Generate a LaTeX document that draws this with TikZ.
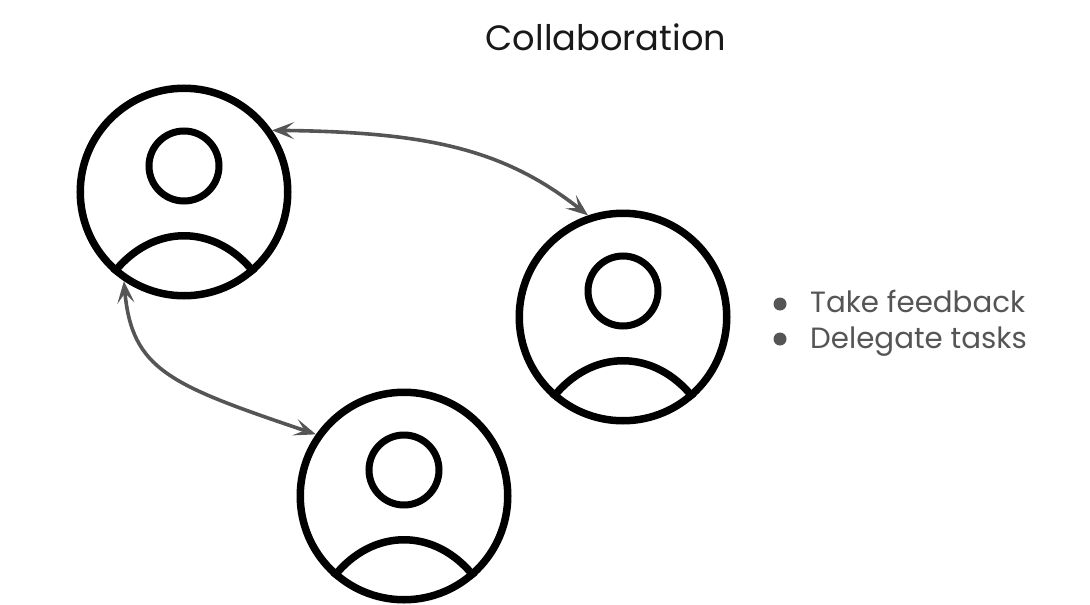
\documentclass[tikz,border=0pt]{standalone}
\usepackage{fontspec}
\setmainfont{Poppins}
\usepackage{xcolor}
\usetikzlibrary{arrows.meta, positioning}
\definecolor{linkgray}{HTML}{555555}

\begin{document}
\begin{tikzpicture}[
    x=1pt, y=-1pt,
    person/.style={draw, circle, line width=7.5pt, minimum size=207.5pt, inner sep=0pt},
    head/.style={draw, circle, line width=7pt, minimum size=70pt, inner sep=0pt},
    shoulder/.style={line width=7.5pt, looseness=1.15},
    link/.style={{Stealth[length=22pt, width=17pt, inset=10pt]}-{Stealth[length=22pt, width=17pt, inset=10pt]}, line width=3.6pt, draw=linkgray},
    item/.style={text=linkgray, font=\fontsize{29.3}{34}\selectfont, anchor=base west, inner sep=0pt},
    dot/.style={circle, fill=linkgray, minimum size=13pt, inner sep=0pt}
]
\useasboundingbox (0,0) rectangle (1090,605);

% Title
\node[font=\fontsize{35.2}{40}\selectfont, text=black!90] (title) at (606,37) {Collaboration};

% People
\node[person] (user1) at (184,192) {};
\node[person] (user2) at (623,317) {};
\node[person] (user3) at (404,496) {};

% Heads
\node[head, above=-12.5pt of user1.center] (head1) {};
\node[head, above=-12.5pt of user2.center] (head2) {};
\node[head, above=-12.5pt of user3.center] (head3) {};

% Shoulders
\draw[shoulder] (user1.229) to[bend left=52] (user1.311);
\draw[shoulder] (user2.229) to[bend left=52] (user2.311);
\draw[shoulder] (user3.229) to[bend left=52] (user3.311);

% Links
\draw[link] (user1.35) .. controls (430,132) and (505,150) .. (user2.109);
\draw[link] (user1.236) .. controls (132,370) and (170,385) .. (user3.145);

% Bullets
\node[item] (item1) at (810,312) {Take feedback};
\node[item] (item2) at (810,348) {Delegate tasks};
\node[dot] (dot1) at (780,304) {};
\node[dot] (dot2) at (780,339) {};

\end{tikzpicture}
\end{document}
